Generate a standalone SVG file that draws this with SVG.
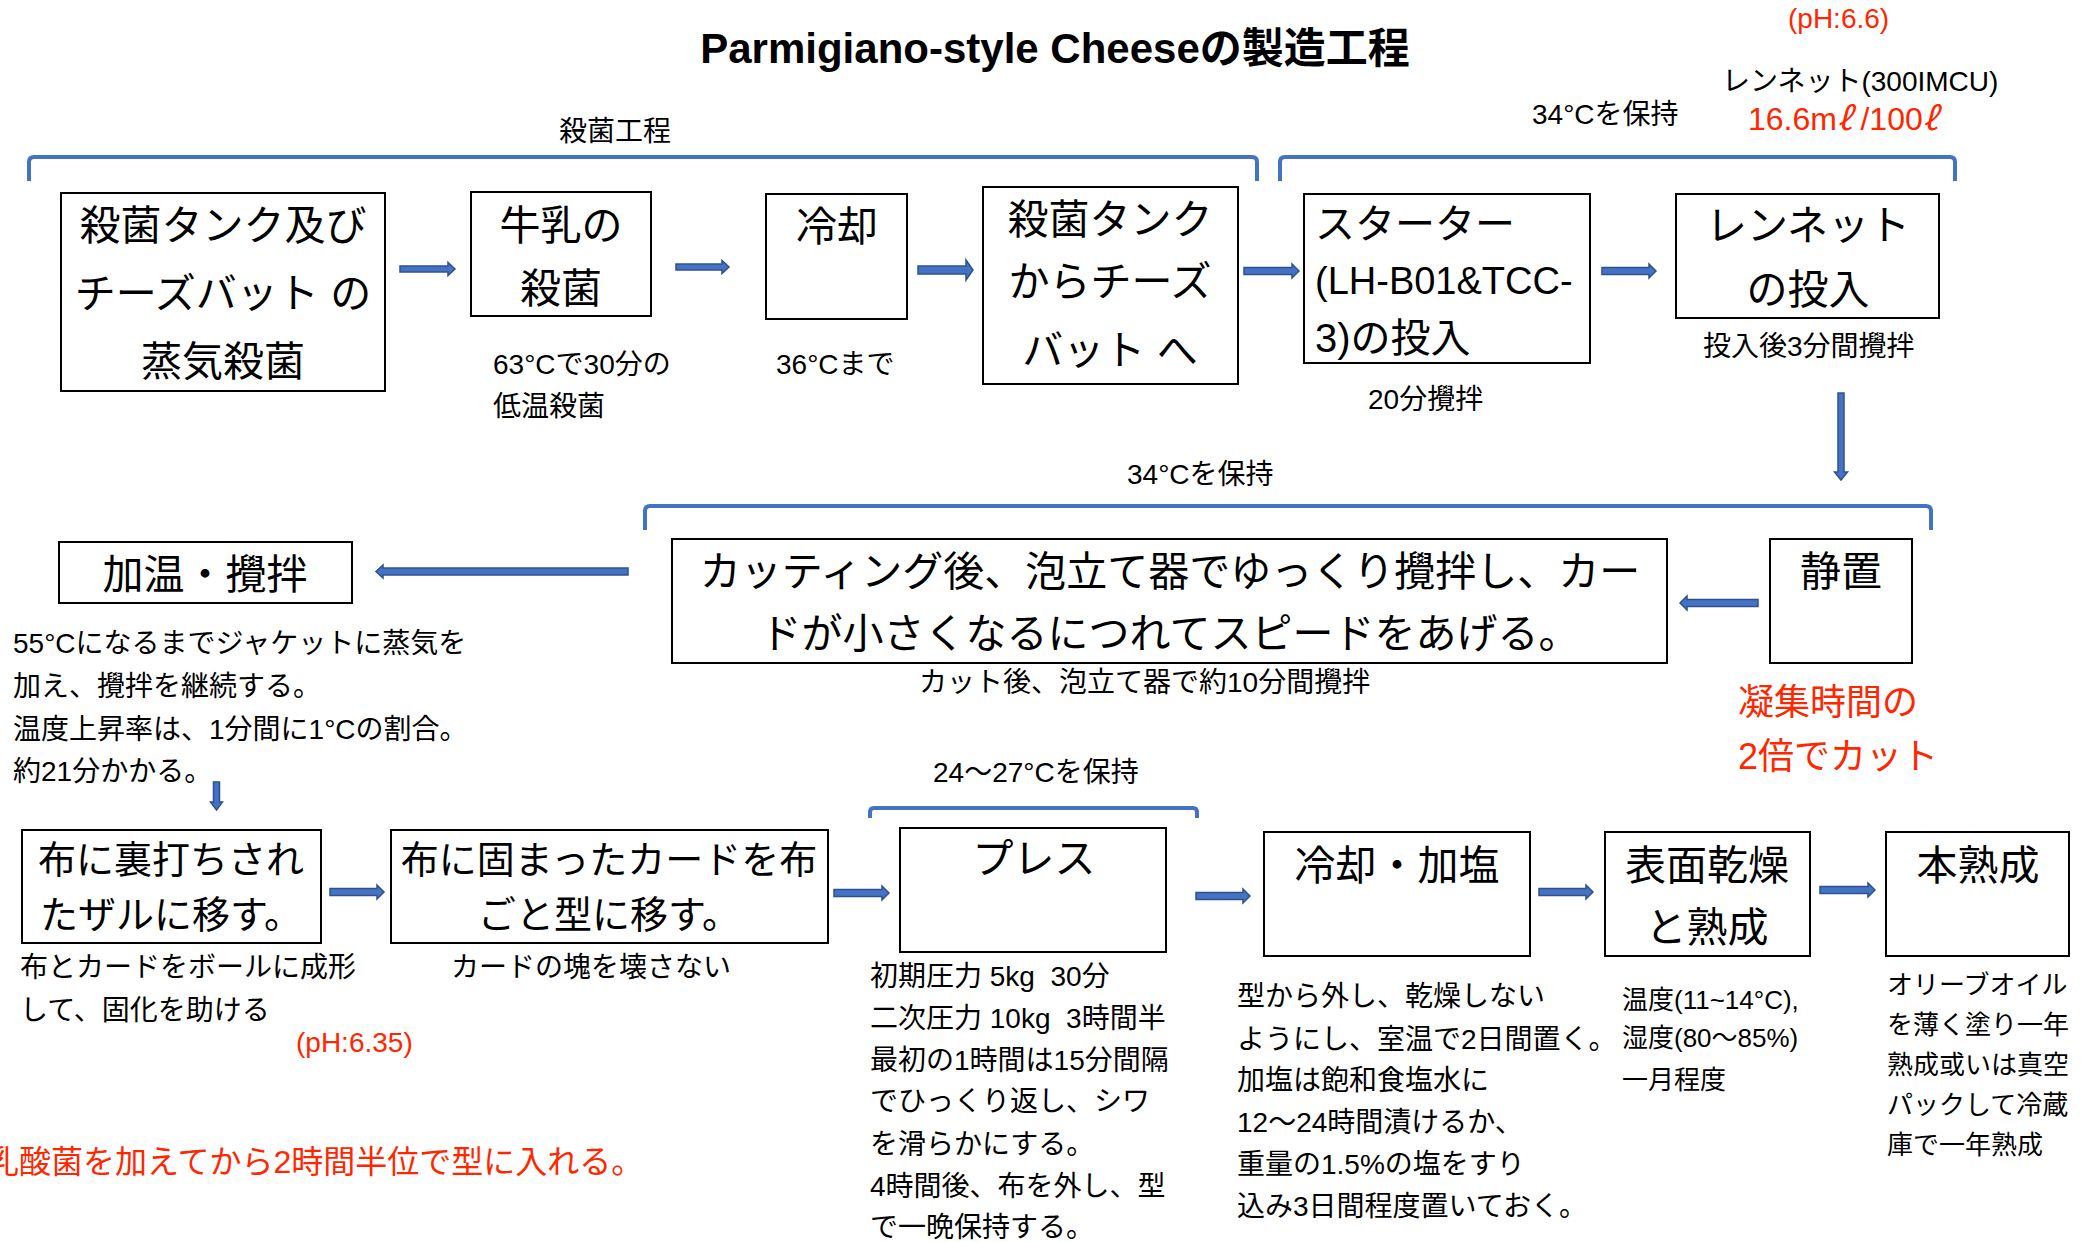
<svg xmlns="http://www.w3.org/2000/svg" width="2088" height="1242" viewBox="0 0 2088 1242">
<style>
text{font-family:"Liberation Sans","Noto Sans CJK JP",sans-serif;fill:#000}
.box{fill:#fff;stroke:#000;stroke-width:2}
.bt{font-size:41px;text-anchor:middle}
.bt38{font-size:38px;text-anchor:middle}
.n{font-size:28px}
.s{font-size:26px}
.red{fill:#FF2600}
.lit{font-family:"Noto Sans CJK JP",sans-serif;font-style:italic}
.br{fill:none;stroke:#4472C4;stroke-width:4;stroke-linejoin:round}
.ar{fill:#4472C4;stroke:#2F528F;stroke-width:1.5}
</style>
<rect width="2088" height="1242" fill="#fff"/>
<text x="1055" y="63" font-size="42" font-weight="bold" text-anchor="middle">Parmigiano-style Cheeseの製造工程</text>

<g id="connectors">
<path class="br" d="M29,181 L29,162 Q29,157 34,157 L1252,157 Q1257,157 1257,162 L1257,181"/>
<path class="br" d="M1280,181 L1280,162 Q1280,157 1285,157 L1950,157 Q1955,157 1955,162 L1955,181"/>
<path class="br" d="M645,530 L645,511 Q645,506 650,506 L1926,506 Q1931,506 1931,511 L1931,530"/>
<path class="br" d="M870,818 L870,812 Q870,808 874,808 L1193,808 Q1197,808 1197,812 L1197,818"/>
<path class="ar" d="M400,266 L448,266 L448,262.5 L455,269 L448,275.5 L448,272 L400,272 Z"/>
<path class="ar" d="M676,264 L722,264 L722,260.5 L729,267 L722,273.5 L722,270 L676,270 Z"/>
<path class="ar" d="M918,266 L966,266 L966,260 L973,270 L966,280 L966,274 L918,274 Z"/>
<path class="ar" d="M1244,267.5 L1292,267.5 L1292,264 L1299,271 L1292,278 L1292,274.5 L1244,274.5 Z"/>
<path class="ar" d="M1602,267.5 L1649,267.5 L1649,264 L1656,271 L1649,278 L1649,274.5 L1602,274.5 Z"/>
<path class="ar" d="M1838,393 L1844,393 L1844,472 L1847.5,472 L1841,480 L1834.5,472 L1838,472 Z"/>
<path class="ar" d="M1758,599.5 L1687,599.5 L1687,596 L1680,603 L1687,610 L1687,606.5 L1758,606.5 Z"/>
<path class="ar" d="M628,568 L383,568 L383,565 L376,571.5 L383,578 L383,575 L628,575 Z"/>
<path class="ar" d="M213.5,782 L219.5,782 L219.5,802 L222.5,802 L216.5,810 L210.5,802 L213.5,802 Z"/>
<path class="ar" d="M330,888.5 L377,888.5 L377,885 L384,892 L377,899 L377,895.5 L330,895.5 Z"/>
<path class="ar" d="M834,889.5 L882,889.5 L882,886 L889,893 L882,900 L882,896.5 L834,896.5 Z"/>
<path class="ar" d="M1196,892.5 L1243,892.5 L1243,889 L1250,896 L1243,903 L1243,899.5 L1196,899.5 Z"/>
<path class="ar" d="M1539,888.5 L1586,888.5 L1586,885 L1593,892 L1586,899 L1586,895.5 L1539,895.5 Z"/>
<path class="ar" d="M1820,886.5 L1868,886.5 L1868,883 L1875,890 L1868,897 L1868,893.5 L1820,893.5 Z"/>
</g>

<g id="n1"><rect class="box" x="61" y="193" width="324" height="198"/>
<text class="bt" x="223" y="240">殺菌タンク及び</text><text class="bt" x="223" y="308">チーズバット の</text><text class="bt" x="223" y="376">蒸気殺菌</text></g>
<g id="n2"><rect class="box" x="471" y="192" width="180" height="124"/>
<text class="bt" x="561" y="240">牛乳の</text><text class="bt" x="561" y="303">殺菌</text></g>
<g id="n3"><rect class="box" x="766" y="194" width="141" height="125"/>
<text class="bt" x="837" y="241">冷却</text></g>
<g id="n4"><rect class="box" x="983" y="187" width="255" height="197"/>
<text class="bt" x="1110" y="234">殺菌タンク</text><text class="bt" x="1110" y="296">からチーズ</text><text class="bt" x="1110" y="365">バット へ</text></g>
<g id="n5"><rect class="box" x="1304" y="194" width="286" height="169"/>
<text x="1315" y="238" font-size="40">スターター</text><text x="1315" y="294" font-size="38">(LH-B01&amp;TCC-</text><text x="1315" y="352" font-size="40">3)の投入</text></g>
<g id="n6"><rect class="box" x="1676" y="194" width="263" height="124"/>
<text class="bt" x="1808" y="240">レンネット</text><text class="bt" x="1808" y="304">の投入</text></g>

<g id="n7"><rect class="box" x="1770" y="539" width="142" height="124"/>
<text class="bt" x="1841" y="586">静置</text></g>
<g id="n8"><rect class="box" x="672" y="539" width="995" height="124"/>
<text class="bt" x="1170" y="586" font-size="42">カッティング後、泡立て器でゆっくり攪拌し、カー</text><text class="bt" x="1170" y="648" font-size="42">ドが小さくなるにつれてスピードをあげる。</text></g>
<g id="n9"><rect class="box" x="59" y="542" width="293" height="61"/>
<text class="bt" x="205" y="589" font-size="42">加温・攪拌</text></g>

<g id="n10"><rect class="box" x="22" y="830" width="299" height="113"/>
<text class="bt38" x="171" y="873">布に裏打ちされ</text><text class="bt38" x="171" y="928">たザルに移す。</text></g>
<g id="n11"><rect class="box" x="391" y="830" width="437" height="113"/>
<text class="bt38" x="609" y="873">布に固まったカードを布</text><text class="bt38" x="609" y="928">ごと型に移す。</text></g>
<g id="n12"><rect class="box" x="900" y="828" width="266" height="124"/>
<text class="bt" x="1034" y="873">プレス</text></g>
<g id="n13"><rect class="box" x="1264" y="832" width="266" height="124"/>
<text class="bt" x="1397" y="880">冷却・加塩</text></g>
<g id="n14"><rect class="box" x="1605" y="832" width="205" height="124"/>
<text class="bt" x="1707" y="880">表面乾燥</text><text class="bt" x="1707" y="942">と熟成</text></g>
<g id="n15"><rect class="box" x="1886" y="832" width="183" height="124"/>
<text class="bt" x="1978" y="880">本熟成</text></g>

<g id="labels">
<text class="n" x="559" y="141">殺菌工程</text>
<text class="n" x="493" y="374">63°Cで30分の</text>
<text class="n" x="493" y="416">低温殺菌</text>
<text class="n" x="776" y="374">36°Cまで</text>
<text class="n" x="1368" y="409">20分攪拌</text>
<text class="n" x="1703" y="356">投入後3分間攪拌</text>
<text class="n" x="1532" y="124">34°Cを保持</text>
<text class="n" x="1722" y="91">レンネット(300IMCU)</text>
<text class="red" x="1748" y="130" font-size="32">16.6m<tspan class="lit">ℓ</tspan> /100<tspan class="lit">ℓ</tspan></text>
<text class="n red" x="1788" y="28">(pH:6.6)</text>
<text class="n" x="1127" y="484">34°Cを保持</text>
<text class="n" x="919" y="692">カット後、泡立て器で約10分間攪拌</text>
<text class="red" x="1738" y="715" font-size="36">凝集時間の</text>
<text class="red" x="1738" y="769" font-size="36">2倍でカット</text>
<text class="n" x="13" y="653">55°Cになるまでジャケットに蒸気を</text>
<text class="n" x="13" y="696">加え、攪拌を継続する。</text>
<text class="n" x="13" y="739">温度上昇率は、1分間に1°Cの割合。</text>
<text class="n" x="13" y="781">約21分かかる。</text>
<text class="n" x="20" y="977">布とカードをボールに成形</text>
<text class="n" x="20" y="1020">して、固化を助ける</text>
<text class="n" x="451" y="977">カードの塊を壊さない</text>
<text class="n red" x="296" y="1052">(pH:6.35)</text>
<text class="red" x="-13" y="1173" font-size="32">乳酸菌を加えてから2時間半位で型に入れる。</text>
<text class="n" x="933" y="782">24〜27°Cを保持</text>
<text class="n" x="870" y="986" xml:space="preserve">初期圧力 5kg  30分</text>
<text class="n" x="870" y="1028" xml:space="preserve">二次圧力 10kg  3時間半</text>
<text class="n" x="870" y="1070">最初の1時間は15分間隔</text>
<text class="n" x="870" y="1111">でひっくり返し、シワ</text>
<text class="n" x="870" y="1154">を滑らかにする。</text>
<text class="n" x="870" y="1196">4時間後、布を外し、型</text>
<text class="n" x="870" y="1237">で一晩保持する。</text>
<text class="n" x="1237" y="1006">型から外し、乾燥しない</text>
<text class="n" x="1237" y="1049">ようにし、室温で2日間置く。</text>
<text class="n" x="1237" y="1090">加塩は飽和食塩水に</text>
<text class="n" x="1237" y="1132">12〜24時間漬けるか、</text>
<text class="n" x="1237" y="1174">重量の1.5%の塩をすり</text>
<text class="n" x="1237" y="1216">込み3日間程度置いておく。</text>
<text class="s" x="1622" y="1009">温度(11~14°C),</text>
<text class="s" x="1622" y="1047">湿度(80〜85%)</text>
<text class="s" x="1622" y="1089">一月程度</text>
<text class="s" x="1887" y="994">オリーブオイル</text>
<text class="s" x="1887" y="1034">を薄く塗り一年</text>
<text class="s" x="1887" y="1074">熟成或いは真空</text>
<text class="s" x="1887" y="1114">パックして冷蔵</text>
<text class="s" x="1887" y="1154">庫で一年熟成</text>
</g>
</svg>
